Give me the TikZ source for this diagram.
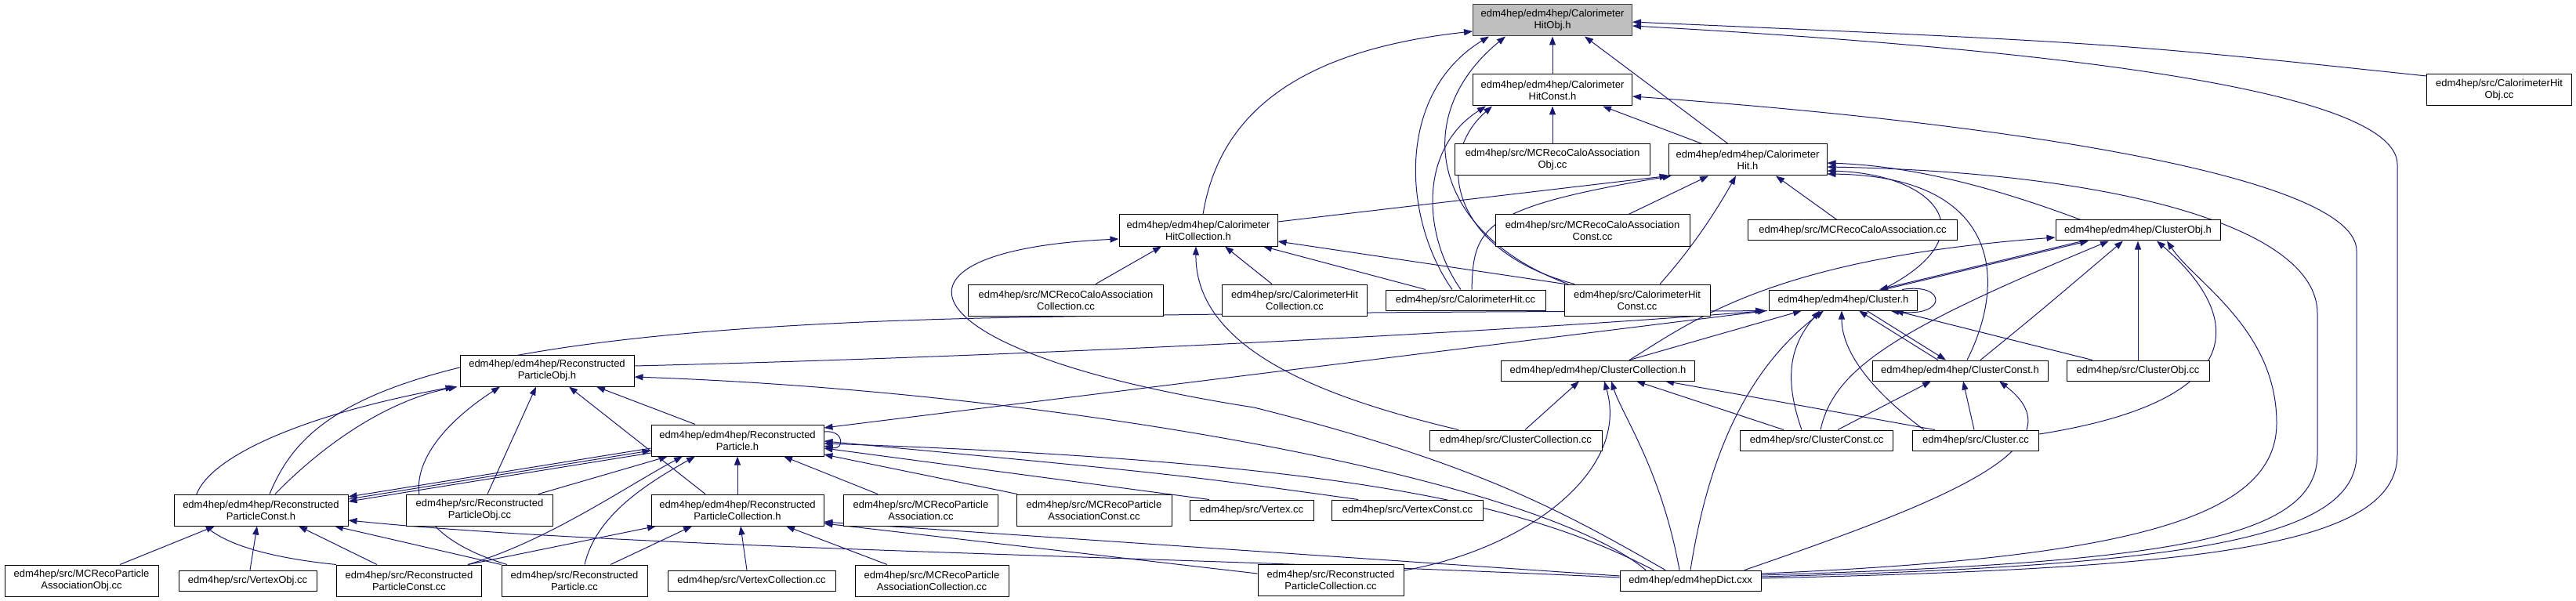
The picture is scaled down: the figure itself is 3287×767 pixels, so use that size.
\documentclass[tikz,border=0pt]{standalone}
\usepackage{fontspec}
\setmainfont{Liberation Sans}
\usetikzlibrary{arrows.meta}
\usetikzlibrary{backgrounds}
\definecolor{edgeblue}{HTML}{191970}
\definecolor{hdrgray}{HTML}{BFBFBF}

\begin{document}
\begin{tikzpicture}[x=1pt, y=-1pt,
    box/.style={draw=black, line width=1pt, fill=white, align=center, inner sep=2pt,
        font=\fontsize{13}{15}\selectfont, minimum height=26},
    tall/.style={box, minimum height=40},
    dep/.style={draw=edgeblue, line width=1pt, -{Triangle[length=11pt,width=8pt]}}]
    \useasboundingbox (0,0) rectangle (3287,767);

    \node[tall, fill=hdrgray, draw=black!75, minimum width=203] (hobj) at (1981,26) {edm4hep/edm4hep/Calorimeter\\HitObj.h};
    \node[tall, minimum width=203] (hconst) at (1981,115) {edm4hep/edm4hep/Calorimeter\\HitConst.h};
    \node[tall, minimum width=249] (mcao) at (1981,204) {edm4hep/src/MCRecoCaloAssociation\\Obj.cc};
    \node[tall, minimum width=202] (hit) at (2230,204) {edm4hep/edm4hep/Calorimeter\\Hit.h};
    \node[tall, minimum width=185] (hobjcc) at (3189,115) {edm4hep/src/CalorimeterHit\\Obj.cc};
    \node[tall, minimum width=202] (hcoll) at (1529,294) {edm4hep/edm4hep/Calorimeter\\HitCollection.h};
    \node[tall, minimum width=248] (mcac) at (2032,294) {edm4hep/src/MCRecoCaloAssociation\\Const.cc};
    \node[box, minimum width=267] (mca) at (2364,294) {edm4hep/src/MCRecoCaloAssociation.cc};
    \node[box, minimum width=210] (cobj) at (2728,294) {edm4hep/edm4hep/ClusterObj.h};
    \node[tall, minimum width=249] (mcacoll) at (1360,383) {edm4hep/src/MCRecoCaloAssociation\\Collection.cc};
    \node[tall, minimum width=185] (hcollcc) at (1652,383) {edm4hep/src/CalorimeterHit\\Collection.cc};
    \node[box, minimum width=204] (hitcc) at (1870,383) {edm4hep/src/CalorimeterHit.cc};
    \node[tall, minimum width=186] (hconstcc) at (2089,383) {edm4hep/src/CalorimeterHit\\Const.cc};
    \node[box, minimum width=189] (cl) at (2352,383) {edm4hep/edm4hep/Cluster.h};
    \node[tall, minimum width=222] (rpobj) at (698,473) {edm4hep/edm4hep/Reconstructed\\ParticleObj.h};
    \node[box, minimum width=247] (ccoll) at (2039,473) {edm4hep/edm4hep/ClusterCollection.h};
    \node[box, minimum width=224] (cconst) at (2501,473) {edm4hep/edm4hep/ClusterConst.h};
    \node[box, minimum width=182] (cobjcc) at (2728,473) {edm4hep/src/ClusterObj.cc};
    \node[tall, minimum width=220] (rp) at (941,562) {edm4hep/edm4hep/Reconstructed\\Particle.h};
    \node[box, minimum width=220] (ccollcc) at (1934,562) {edm4hep/src/ClusterCollection.cc};
    \node[box, minimum width=195] (cconstcc) at (2318,562) {edm4hep/src/ClusterConst.cc};
    \node[box, minimum width=161] (clcc) at (2521,562) {edm4hep/src/Cluster.cc};
    \node[tall, minimum width=222] (rpconst) at (333,651) {edm4hep/edm4hep/Reconstructed\\ParticleConst.h};
    \node[tall, minimum width=187] (rpobjcc) at (612,651) {edm4hep/src/Reconstructed\\ParticleObj.cc};
    \node[tall, minimum width=220] (rpcoll) at (941,651) {edm4hep/edm4hep/Reconstructed\\ParticleCollection.h};
    \node[tall, minimum width=197] (mcpa) at (1175,651) {edm4hep/src/MCRecoParticle\\Association.cc};
    \node[tall, minimum width=198] (mcpac) at (1396,651) {edm4hep/src/MCRecoParticle\\AssociationConst.cc};
    \node[box, minimum width=158] (vtx) at (1597,651) {edm4hep/src/Vertex.cc};
    \node[box, minimum width=193] (vtxc) at (1796,651) {edm4hep/src/VertexConst.cc};
    \node[tall, minimum width=196] (mcpao) at (104,741) {edm4hep/src/MCRecoParticle\\AssociationObj.cc};
    \node[box, minimum width=176] (vtxo) at (316,741) {edm4hep/src/VertexObj.cc};
    \node[tall, minimum width=185] (rpconstcc) at (522,741) {edm4hep/src/Reconstructed\\ParticleConst.cc};
    \node[tall, minimum width=186] (rpcc) at (733,741) {edm4hep/src/Reconstructed\\Particle.cc};
    \node[box, minimum width=214] (vtxcoll) at (959,741) {edm4hep/src/VertexCollection.cc};
    \node[tall, minimum width=196] (mcpacoll) at (1189,741) {edm4hep/src/MCRecoParticle\\AssociationCollection.cc};
    \node[tall, minimum width=186] (rpcollcc) at (1698,740) {edm4hep/src/Reconstructed\\ParticleCollection.cc};
    \node[box, minimum width=180] (dict) at (2157,741) {edm4hep/edm4hepDict.cxx};

    \begin{scope}[on background layer]
    \draw[dep] (hconst) -- (hobj);
    \draw[dep] ([xshift=-25]hit.north) -- ([xshift=41]hobj.south);
    \draw[dep] ([xshift=6]hcoll.north) .. controls (1555,150) and (1650,65) .. ([yshift=-14]hobj.west);
    \draw[dep] ([xshift=-17]hitcc.north) .. controls (1790,280) and (1780,120) .. ([xshift=-81]hobj.south);
    \draw[dep] ([xshift=-88]hconstcc.north) .. controls (1830,300) and (1795,150) .. ([xshift=-60]hobj.south);
    \draw[dep] ([yshift=18]hobjcc.west) .. controls (2700,55) .. ([yshift=-2]hobj.east);
    \draw[dep] ([yshift=3]dict.east) .. controls (2800,725) and (3059,700) .. (3059,580) -- (3059,210) .. controls (3059,130) and (2750,70) .. ([yshift=-7]hobj.east);

    \draw[dep] (mcao) -- (hconst);
    \draw[dep] ([xshift=-58]hit.north) -- ([xshift=64]hconst.south);
    \draw[dep] ([xshift=-6]hitcc.north) .. controls (1815,300) and (1810,190) .. ([xshift=-85]hconst.south);
    \draw[dep] ([xshift=-80]hconstcc.north) .. controls (1850,320) and (1830,200) .. ([xshift=-77]hconst.south);
    \draw[dep] ([yshift=5]dict.east) .. controls (2780,722) and (3007,690) .. (3007,580) -- (3007,320) .. controls (3007,230) and (2600,160) .. ([yshift=-8]hconst.east);

    \draw[dep] ([yshift=11]hcoll.east) -- (hit.south west);
    \draw[dep] ([xshift=8]hitcc.north) .. controls (1880,290) and (1890,265) .. ([xshift=4]hit.south west);
    \draw[dep] ([xshift=46]mcac.north) -- ([xshift=-50]hit.south);
    \draw[dep] ([xshift=29]hconstcc.north) .. controls (2165,310) and (2195,260) .. ([xshift=-15]hit.south);
    \draw[dep] ([xshift=-20]mca.north) -- ([xshift=36]hit.south);
    \draw[dep] ([xshift=-73]cobj.north) .. controls (2560,245) and (2450,212) .. ([yshift=-4]hit.east);
    \draw[dep] ([xshift=50]cl.north) .. controls (2540,300) and (2470,222) .. ([yshift=-14]hit.east);
    \draw[dep] ([xshift=9]cconst.north) .. controls (2565,350) and (2545,225) .. ([yshift=-18]hit.east);
    \draw[dep] ([yshift=7]dict.east) .. controls (2760,718) and (2957,690) .. (2957,580) -- (2957,400) .. controls (2957,290) and (2700,220) .. ([yshift=-9]hit.east);

    \draw[dep] ([xshift=38]mcacoll.north) -- ([xshift=-47]hcoll.south);
    \draw[dep] ([xshift=-29]hcollcc.north) -- ([xshift=34]hcoll.south);
    \draw[dep] ([xshift=-51]hitcc.north) -- ([xshift=83]hcoll.south);
    \draw[dep] ([xshift=-92]hconstcc.north) -- ([yshift=-14]hcoll.east);
    \draw[dep] ([xshift=-73]ccollcc.north) .. controls (1700,510) and (1525,450) .. ([xshift=-3]hcoll.south);
    \draw[dep] ([xshift=-32]dict.north) .. controls (1990,650) and (1880,590) .. (1600,520) .. controls (1150,450) and (1100,320) .. ([yshift=-11]hcoll.west);

    \draw[dep] ([xshift=40]ccoll.north) .. controls (2160,410) and (2260,330) .. ([yshift=-9]cobj.west);
    \draw[dep] ([xshift=52]cl.north) -- ([xshift=-63]cobj.south);
    \draw[dep] ([xshift=-70]cobj.south) -- ([xshift=46]cl.north);
    \draw[dep] ([xshift=5]cconstcc.north) .. controls (2340,470) and (2420,420) .. ([xshift=-37]cobj.south);
    \draw[dep] ([xshift=26]cconst.north) .. controls (2600,400) .. ([xshift=-19]cobj.south);
    \draw[dep] (cobjcc) -- (cobj);
    \draw[dep] ([yshift=8]clcc.east) .. controls (2880,510) and (2860,400) .. ([xshift=24]cobj.south);
    \draw[dep] ([yshift=9]dict.east) .. controls (2720,712) and (2905,660) .. (2905,540) .. controls (2905,420) and (2800,360) .. ([xshift=37]cobj.south);

    \draw[dep] ([xshift=75]cl.north) .. controls (2485,360) and (2485,406) .. ([xshift=60]cl.south);
    \draw[dep] ([xshift=11]rpconst.north) .. controls (390,520) and (500,420) .. (1300,405) .. controls (1800,396) and (2100,398) .. ([xshift=-6]cl.south west);
    \draw[dep] ([yshift=6]rpobj.east) .. controls (1300,455) and (1900,425) .. ([xshift=-3]cl.south west);
    \draw[dep] ([xshift=-2]cl.south west) -- ([yshift=16]rp.east);
    \draw[dep] ([xshift=40]ccoll.north) -- ([xshift=-53]cl.south);
    \draw[dep] ([xshift=-19]cconstcc.north) .. controls (2275,480) and (2285,440) .. ([xshift=-30]cl.south);
    \draw[dep] ([xshift=-66]clcc.north) .. controls (2390,500) and (2350,450) .. ([xshift=-2]cl.south);
    \draw[dep] ([xshift=-28]cconst.north) -- ([xshift=20]cl.south);
    \draw[dep] ([xshift=30]cl.south) -- ([xshift=-18]cconst.north);
    \draw[dep] ([xshift=-58]cobjcc.north) -- ([xshift=66]cl.south);
    \draw[dep] (dict.north) .. controls (2180,580) and (2230,470) .. ([xshift=-25]cl.south);

    \draw[dep] ([xshift=12]ccollcc.north) -- ([xshift=-24]ccoll.south);
    \draw[dep] ([yshift=12]rpcollcc.east) .. controls (1950,700) and (2080,600) .. ([xshift=8]ccoll.south);
    \draw[dep] ([xshift=-14]dict.north) .. controls (2120,600) and (2070,530) .. ([xshift=17]ccoll.south);
    \draw[dep] ([xshift=-42]cconstcc.north) -- ([xshift=49]ccoll.south);
    \draw[dep] ([xshift=-52]clcc.north) -- ([xshift=86]ccoll.south);

    \draw[dep] ([xshift=27]cconstcc.north) -- ([xshift=-37]cconst.south);
    \draw[dep] ([xshift=-2]clcc.north) -- ([xshift=4]cconst.south);
    \draw[dep] ([xshift=69]dict.north) .. controls (2480,640) and (2660,570) .. ([xshift=50]cconst.south);

    \draw[dep] ([yshift=11]rp.east) .. controls (1078,548) and (1078,575) .. ([yshift=-7]rp.east);
    \draw[dep] ([xshift=-54]rp.north) -- ([xshift=63]rpobj.south);
    \draw[dep] ([xshift=75]rpobjcc.north) -- ([xshift=-89]rp.south);
    \draw[dep] ([xshift=75]rpconstcc.north) .. controls (700,690) and (800,620) .. ([xshift=-70]rp.south);
    \draw[dep] ([xshift=13]rpcc.north) .. controls (760,660) and (820,620) .. ([xshift=-54]rp.south);
    \draw[dep] (rpcoll) -- (rp);
    \draw[dep] ([xshift=-55]mcpa.north) -- ([xshift=59]rp.south);
    \draw[dep] ([xshift=-98]mcpac.north) -- ([yshift=-18]rp.east);
    \draw[dep] ([xshift=-54]vtx.north) -- ([yshift=-10]rp.east);
    \draw[dep] ([xshift=-63]vtxc.north) .. controls (1500,605) .. ([yshift=-1]rp.east);
    \draw[dep] ([xshift=-47]dict.north) .. controls (1960,650) and (1750,590) .. ([yshift=-4]rp.east);
    \draw[dep] ([yshift=-10]rp.west) -- ([yshift=17]rpconst.east);
    \draw[dep] ([yshift=14]rpconst.east) -- ([yshift=-13]rp.west);
    \draw[dep] ([yshift=-16]rp.west) -- ([yshift=11]rpconst.east);

    \draw[dep] (rpconstcc.north west) .. controls (130,690) and (220,560) .. ([xshift=-7]rpobj.south west);
    \draw[dep] ([xshift=18]rpconst.north) .. controls (420,560) and (500,510) .. ([xshift=-3]rpobj.south west);
    \draw[dep] ([xshift=-86]rpcc.north) .. controls (480,670) and (520,570) .. ([xshift=-60]rpobj.south);
    \draw[dep] ([xshift=10]rpobjcc.north) -- ([xshift=-14]rpobj.south);
    \draw[dep] ([xshift=-41]rpcoll.north) -- ([xshift=28]rpobj.south);
    \draw[dep] ([xshift=-57]dict.north) .. controls (1960,610) and (1350,500) .. ([yshift=-8]rpobj.east);

    \draw[dep] ([xshift=49]mcpao.north) -- ([xshift=-59]rpconst.south);
    \draw[dep] ([xshift=3]vtxo.north) -- ([xshift=-5]rpconst.south);
    \draw[dep] ([xshift=-41]rpconstcc.north) -- ([xshift=48]rpconst.south);
    \draw[dep] (rpcc.north west) -- ([xshift=94]rpconst.south);
    \draw[dep] ([yshift=4]dict.west) .. controls (1500,710) and (800,700) .. ([yshift=-13]rpconst.east);

    \draw[dep] ([xshift=75]rpconstcc.north) -- ([xshift=-104]rpcoll.south);
    \draw[dep] ([xshift=46]rpcc.north) -- ([xshift=-58]rpcoll.south);
    \draw[dep] ([xshift=-6]vtxcoll.north) -- ([xshift=4]rpcoll.south);
    \draw[dep] ([xshift=-57]mcpacoll.north) -- ([xshift=62]rpcoll.south);
    \draw[dep] ([yshift=8]rpcollcc.west) -- ([yshift=-17]rpcoll.east);
    \draw[dep] ([yshift=6]dict.west) -- ([yshift=-15]rpcoll.east);
    \end{scope}
\end{tikzpicture}
\end{document}
